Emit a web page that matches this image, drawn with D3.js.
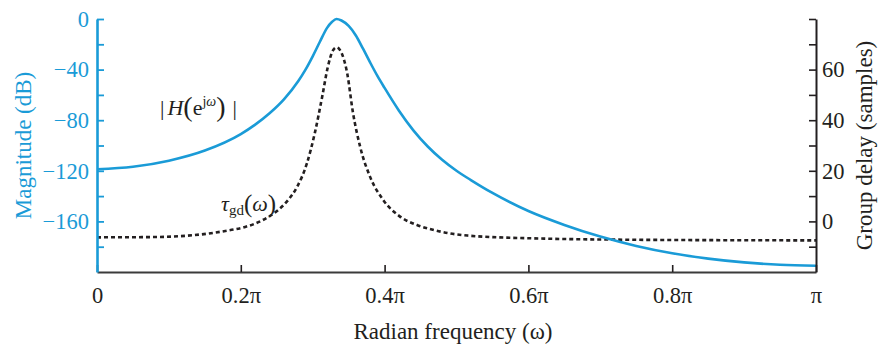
<!DOCTYPE html>
<html>
<head>
<meta charset="utf-8">
<script src="https://cdn.jsdelivr.net/npm/d3@7"></script>
<style>
  html, body { margin: 0; padding: 0; background: #fff; }
  svg { display: block; font-family: "Liberation Serif", "Times New Roman", serif; }
</style>
</head>
<body>
<svg id="chart" width="883" height="344"></svg>
<script>
// Frequency in units of pi (0 .. 1)
const magFreq = [0, 0.05, 0.10, 0.15, 0.20, 0.22, 0.24, 0.26, 0.28, 0.29, 0.30, 0.31, 0.32, 0.327, 0.333,
                 0.34, 0.35, 0.36, 0.37, 0.38, 0.39, 0.40, 0.42, 0.44, 0.46, 0.48, 0.50, 0.52, 0.55,
                 0.60, 0.65, 0.70, 0.75, 0.80, 0.85, 0.90, 0.95, 1.0];
// Magnitude response in dB
const magDb = [-118.8, -116.8, -112.0, -104.0, -91.0, -83.5, -74.5, -63.5, -49.0, -40.0, -29.5, -18.0, -7.0, -2.2, 0,
               -1.2, -5.5, -13.0, -23.5, -34.5, -45.0, -54.5, -72.5, -88.0, -100.8, -111.3, -120.0, -127.3, -137.5,
               -151.8, -162.8, -172.0, -179.4, -185.2, -189.4, -192.4, -194.3, -195.1];

// Group delay in samples
const gdFreq = [0, 0.074, 0.136, 0.182, 0.206, 0.229, 0.252, 0.266, 0.278, 0.292, 0.303, 0.313, 0.321, 0.328, 0.333,
                0.338, 0.348, 0.356, 0.366, 0.38, 0.398, 0.421, 0.445, 0.467, 0.515, 0.606, 0.769, 1.0];
const gdSamples = [-6.3, -6.2, -5.4, -3.6, -2.2, 0.3, 4.5, 8.5, 13.5, 23, 35, 49, 61, 67.5, 68.8,
                   67.7, 58.5, 43, 29.5, 17.5, 8.5, 2, -1.4, -3.3, -5.6, -6.7, -7.3, -7.5];

const xTickValues = [0, 0.2, 0.4, 0.6, 0.8, 1];
const xTickLabels = ["0", "0.2π", "0.4π", "0.6π", "0.8π", "π"];
const magTicks = [0, -20, -40, -60, -80, -100, -120, -140, -160, -180];
const magLabeled = [0, -40, -80, -120, -160];
const gdTicks = [80, 70, 60, 50, 40, 30, 20, 10, 0, -10];
const gdLabeled = [60, 40, 20, 0];

const BLUE = "#1a9bd7";
const INK = "#231f20";

const svg = d3.select("#chart");
const plotLeft = 97, plotRight = 816, plotTop = 19, plotBottom = 272;

const x = d3.scaleLinear().domain([0, 1]).range([plotLeft, plotRight]);
const yMag = d3.scaleLinear().domain([-200, 0]).range([plotBottom, plotTop]);
const yGd = d3.scaleLinear().domain([-20, 80]).range([plotBottom, plotTop]);

// curves
const magLine = d3.line()
  .x((d, i) => x(magFreq[i]))
  .y(d => yMag(d))
  .curve(d3.curveMonotoneX);
const gdLine = d3.line()
  .x((d, i) => x(gdFreq[i]))
  .y(d => yGd(d))
  .curve(d3.curveMonotoneX);

svg.append("path")
  .attr("d", gdLine(gdSamples))
  .attr("fill", "none")
  .attr("stroke", INK)
  .attr("stroke-width", 2.6)
  .attr("stroke-dasharray", "4,3");

svg.append("path")
  .attr("d", magLine(magDb))
  .attr("fill", "none")
  .attr("stroke", BLUE)
  .attr("stroke-width", 2.6);

// bottom axis
const xAxis = d3.axisBottom(x)
  .tickValues(xTickValues)
  .tickFormat((d, i) => xTickLabels[i])
  .tickSizeInner(-7)
  .tickSizeOuter(0)
  .tickPadding(15);
const gx = svg.append("g").attr("transform", `translate(0,${plotBottom})`).call(xAxis);
gx.select(".domain").attr("stroke", "#3b3b3b").attr("stroke-width", 2);
gx.selectAll(".tick line").attr("stroke", INK).attr("stroke-width", 1.6);
gx.selectAll(".tick text").attr("fill", INK).attr("font-size", 22.5)
  .attr("font-family", "Liberation Serif, serif");

// right axis (group delay)
const gdAxis = d3.axisRight(yGd)
  .tickValues(gdTicks)
  .tickFormat(d => gdLabeled.includes(d) ? String(d) : "")
  .tickSizeInner(-7)
  .tickSizeOuter(0)
  .tickPadding(6);
const gr = svg.append("g").attr("transform", `translate(${plotRight},0)`).call(gdAxis);
gr.select(".domain").attr("stroke", INK).attr("stroke-width", 2);
gr.selectAll(".tick line").attr("stroke", INK).attr("stroke-width", 1.6);
gr.selectAll(".tick text").attr("fill", INK).attr("font-size", 22.5)
  .attr("font-family", "Liberation Serif, serif");

// left axis (magnitude)
const magAxis = d3.axisLeft(yMag)
  .tickValues(magTicks)
  .tickFormat(d => magLabeled.includes(d) ? (d === 0 ? "0" : "\u2212" + Math.abs(d)) : "")
  .tickSizeInner(-7)
  .tickSizeOuter(0)
  .tickPadding(8);
const gl = svg.append("g").attr("transform", `translate(${plotLeft},0)`).call(magAxis);
gl.select(".domain").attr("stroke", BLUE).attr("stroke-width", 2.6);
gl.selectAll(".tick line").attr("stroke", BLUE).attr("stroke-width", 1.8);
gl.selectAll(".tick text").attr("fill", BLUE).attr("font-size", 22.5)
  .attr("font-family", "Liberation Serif, serif");

// axis titles
svg.append("text")
  .attr("transform", `translate(31,${(plotTop + plotBottom) / 2}) rotate(-90)`)
  .attr("text-anchor", "middle")
  .attr("fill", BLUE)
  .attr("font-size", 23)
  .text("Magnitude (dB)");

svg.append("text")
  .attr("transform", `translate(872,${(plotTop + plotBottom) / 2}) rotate(-90)`)
  .attr("text-anchor", "middle")
  .attr("fill", INK)
  .attr("font-size", 23)
  .text("Group delay (samples)");

svg.append("text")
  .attr("x", 453)
  .attr("y", 339)
  .attr("text-anchor", "middle")
  .attr("fill", INK)
  .attr("font-size", 23)
  .text("Radian frequency (ω)");

// curve labels
const hLabel = svg.append("text")
  .attr("x", 160).attr("y", 115)
  .attr("fill", INK).attr("font-size", 22);
hLabel.append("tspan").text("|");
hLabel.append("tspan").attr("dx", 3).attr("font-style", "italic").text("H");
hLabel.append("tspan").attr("font-size", 28).attr("dy", 1).text("(");
hLabel.append("tspan").attr("dy", -1).text("e");
hLabel.append("tspan").attr("font-size", 14).attr("dy", -9).text("j");
hLabel.append("tspan").attr("font-size", 14).attr("font-style", "italic").text("ω");
hLabel.append("tspan").attr("font-size", 28).attr("dy", 10).text(")");
hLabel.append("tspan").attr("dx", 7).attr("dy", -1).text("|");

const tLabel = svg.append("text")
  .attr("x", 221).attr("y", 211)
  .attr("fill", INK).attr("font-size", 22);
tLabel.append("tspan").attr("font-style", "italic").text("τ");
tLabel.append("tspan").attr("font-size", 15).attr("dy", 4).text("gd");
tLabel.append("tspan").attr("font-size", 25).attr("dy", -3).text("(");
tLabel.append("tspan").attr("font-style", "italic").attr("dy", -1).text("ω");
tLabel.append("tspan").attr("font-size", 25).attr("dy", 1).text(")");
</script>
</body>
</html>
